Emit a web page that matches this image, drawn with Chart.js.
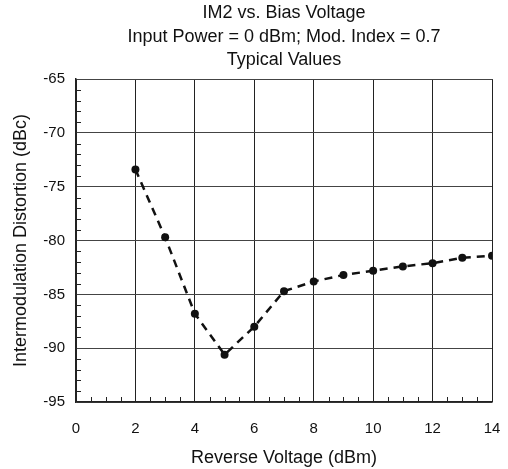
<!DOCTYPE html>
<html>
<head>
<meta charset="utf-8">
<script src="https://cdn.jsdelivr.net/npm/chart.js@4/dist/chart.umd.min.js"></script>
<style>
  html, body { margin: 0; padding: 0; background: #fff; }
  #wrap { width: 508px; height: 469px; }
</style>
</head>
<body>
<div id="wrap"><canvas id="chart" width="508" height="469"></canvas></div>
<script>
// bias voltage (x) and IM2 (y)
const voltages = [2, 3, 4, 5, 6, 7, 8, 9, 10, 11, 12, 13, 14];
const im2 = [-73.4, -79.7, -86.8, -90.6, -88.0, -84.7, -83.8, -83.2, -82.8, -82.4, -82.1, -81.6, -81.4];
const titleLines = ['IM2 vs. Bias Voltage', 'Input Power = 0 dBm; Mod. Index = 0.7', 'Typical Values'];
const xTitle = 'Reverse Voltage (dBm)';
const yTitle = 'Intermodulation Distortion (dBc)';

const FONT = "'Liberation Sans', Arial, sans-serif";

// small inward ticks on left and bottom axes
const minorTicks = {
  id: 'minorTicks',
  afterDraw(chart) {
    const { ctx, chartArea: a, scales: { x, y } } = chart;
    ctx.save();
    ctx.strokeStyle = '#222';
    ctx.lineWidth = 1;
    ctx.beginPath();
    for (let v = -95; v <= -65; v += 1) {
      if (v % 5 === 0) continue;
      const py = Math.round(y.getPixelForValue(v)) + 0.5;
      ctx.moveTo(a.left, py);
      ctx.lineTo(a.left + 5, py);
    }
    for (let v = 0; v <= 14; v += 0.5) {
      if (v % 2 === 0) continue;
      const px = Math.round(x.getPixelForValue(v)) + 0.5;
      ctx.moveTo(px, a.bottom);
      ctx.lineTo(px, a.bottom - 5);
    }
    ctx.stroke();
    ctx.restore();
  }
};

new Chart(document.getElementById('chart'), {
  type: 'line',
  data: {
    datasets: [{
      data: voltages.map((v, i) => ({ x: v, y: im2[i] })),
      borderColor: '#111',
      backgroundColor: '#111',
      borderWidth: 2.5,
      borderDash: [8, 6],
      pointRadius: 4,
      pointBorderWidth: 0,
      tension: 0
    }]
  },
  options: {
    responsive: false,
    animation: false,
    layout: { padding: { left: 0, right: 16, top: 0, bottom: 0 } },
    plugins: {
      legend: { display: false },
      tooltip: { enabled: false },
      title: {
        display: true,
        fullSize: false,
        text: titleLines,
        color: '#111',
        font: { family: FONT, size: 18, weight: 'normal', lineHeight: 1.28 },
        padding: { top: 2, bottom: 8 }
      }
    },
    scales: {
      x: {
        type: 'linear',
        min: 0, max: 14,
        afterFit(s) { s.height = 67; s.paddingRight = 0; s.paddingLeft = 0; },
        ticks: { stepSize: 2, color: '#111', padding: 18, font: { family: FONT, size: 15 } },
        grid: { color: '#222', lineWidth: 1, drawTicks: false },
        border: { color: '#222', width: 1.5 },
        title: { display: true, text: xTitle, color: '#111', font: { family: FONT, size: 18 }, padding: { top: 0, bottom: 0 } }
      },
      y: {
        min: -95, max: -65,
        afterFit(s) { s.width = 76; s.paddingTop = 0; s.paddingBottom = 0; },
        ticks: { stepSize: 5, color: '#111', padding: 11, font: { family: FONT, size: 15 } },
        grid: { color: '#444', lineWidth: 1, drawTicks: false },
        border: { color: '#222', width: 1.5 },
        title: { display: true, text: yTitle, color: '#111', font: { family: FONT, size: 18 }, padding: { top: 10, bottom: 0 } }
      }
    }
  },
  plugins: [minorTicks]
});
</script>
</body>
</html>
